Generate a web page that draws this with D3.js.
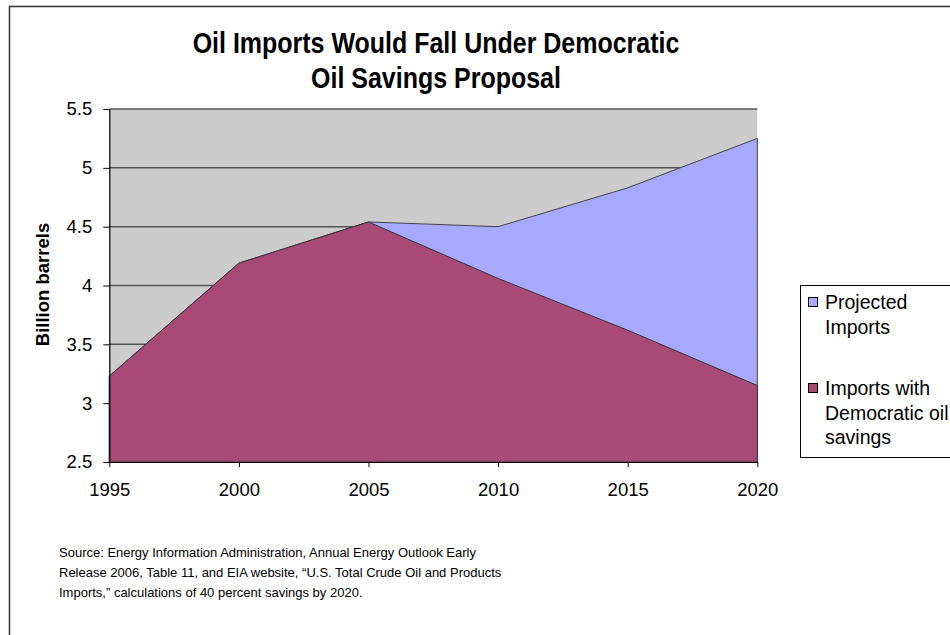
<!DOCTYPE html>
<html>
<head>
<meta charset="utf-8">
<script src="https://cdn.jsdelivr.net/npm/d3@7"></script>
<style>
    body { margin: 0; background: #fff; }
    svg { display: block; font-family: "Liberation Sans", Arial, sans-serif; }
</style>
</head>
<body>
<div id="chart"></div>
<script>
// data
const years = [1995, 2000, 2005, 2010, 2015, 2020];
const projectedImports = [3.23, 4.19, 4.54, 4.50, 4.83, 5.25];
const savingsImports = [3.23, 4.19, 4.54, 4.06, 3.62, 3.15];
const yTicks = [2.5, 3, 3.5, 4, 4.5, 5, 5.5];
const seriesNames = ["Projected Imports", "Imports with Democratic oil savings"];
const titleLines = ["Oil Imports Would Fall Under Democratic", "Oil Savings Proposal"];
const sourceLines = [
    "Source: Energy Information Administration, Annual Energy Outlook Early",
    "Release 2006, Table 11, and EIA website, \u201cU.S. Total Crude Oil and Products",
    "Imports,\u201d calculations of 40 percent savings by 2020."
];

const width = 950, height = 635;
const plot = { left: 109.3, right: 757.3, top: 109, bottom: 462 };

const svg = d3.select("#chart").append("svg")
    .attr("width", width)
    .attr("height", height);

// outer frame (runs off the right and bottom edge)
svg.append("rect")
    .attr("x", 9.5).attr("y", 6.5)
    .attr("width", 960).attr("height", 660)
    .attr("fill", "none")
    .attr("stroke", "#333")
    .attr("stroke-width", 1.5);

const x = d3.scaleLinear().domain([1995, 2020]).range([plot.left, plot.right]);
const y = d3.scaleLinear().domain([2.5, 5.5]).range([plot.bottom, plot.top]);

// plot background
svg.append("rect")
    .attr("x", plot.left).attr("y", plot.top)
    .attr("width", plot.right - plot.left)
    .attr("height", plot.bottom - plot.top)
    .attr("fill", "#cccccc");

// gridlines
svg.append("g")
    .selectAll("line")
    .data(yTicks.filter(d => d > 2.5))
    .join("line")
    .attr("x1", plot.left).attr("x2", plot.right)
    .attr("y1", d => y(d)).attr("y2", d => y(d))
    .attr("stroke", "#555")
    .attr("stroke-width", 1.5);

const area = d3.area()
    .x((d, i) => x(years[i]))
    .y0(y(2.5))
    .y1(d => y(d));

svg.append("path")
    .datum(projectedImports)
    .attr("d", area)
    .attr("fill", "#a6a9ff")
    .attr("stroke", "#444")
    .attr("stroke-width", 1);

svg.append("path")
    .datum(savingsImports)
    .attr("d", area)
    .attr("fill", "#a94a76")
    .attr("stroke", "#333")
    .attr("stroke-width", 1);

// axes
const yAxis = svg.append("g")
    .attr("transform", `translate(${plot.left},0)`)
    .call(d3.axisLeft(y).tickValues(yTicks).tickFormat(d => String(d)).tickSize(6).tickSizeOuter(0).tickPadding(11));

const xAxis = svg.append("g")
    .attr("transform", `translate(0,${plot.bottom})`)
    .call(d3.axisBottom(x).tickValues(years).tickFormat(d => String(d)).tickSize(5).tickSizeOuter(0).tickPadding(16));

[xAxis, yAxis].forEach(g => {
    g.attr("font-family", null).attr("font-size", null);
    g.selectAll("text")
        .style("font-size", "18.5px")
        .attr("fill", "#000");
    g.selectAll("line").attr("stroke", "#000");
    g.select(".domain").attr("stroke", "#000").attr("stroke-width", 1.2);
});

// title, stretched a little in height like the original
svg.append("g")
    .selectAll("text")
    .data(titleLines)
    .join("text")
    .attr("transform", (d, i) => `translate(436,${53 + i * 35}) scale(1,1.17)`)
    .attr("text-anchor", "middle")
    .style("font-weight", "bold")
    .style("font-size", "25px")
    .text(d => d);

// y axis label
svg.append("text")
    .attr("transform", `translate(49,${(plot.top + plot.bottom) / 2 - 1}) rotate(-90)`)
    .attr("text-anchor", "middle")
    .style("font-weight", "bold")
    .style("font-size", "18.5px")
    .text("Billion barrels");

// legend
const legend = svg.append("g");
legend.append("rect")
    .attr("x", 800.5).attr("y", 285.5)
    .attr("width", 200).attr("height", 172)
    .attr("fill", "#fff")
    .attr("stroke", "#000");

const legendLines = [["Projected", "Imports"], ["Imports with", "Democratic oil", "savings"]];
const legendColors = ["#a6a9ff", "#a94a76"];
const legendTop = [309, 395];

const item = legend.selectAll(".item")
    .data(seriesNames)
    .join("g")
    .attr("class", "item");

item.append("rect")
    .attr("x", 808.5)
    .attr("y", (d, i) => legendTop[i] - 11.5)
    .attr("width", 9).attr("height", 9)
    .attr("fill", (d, i) => legendColors[i])
    .attr("stroke", "#000");

item.append("text")
    .style("font-size", "19.5px")
    .selectAll("tspan")
    .data((d, i) => legendLines[i].map(t => ({ t, top: legendTop[i] })))
    .join("tspan")
    .attr("x", 825)
    .attr("y", (d, j) => d.top + j * 24.5)
    .text(d => d.t);

// source note
svg.append("text")
    .style("font-size", "13px")
    .selectAll("tspan")
    .data(sourceLines)
    .join("tspan")
    .attr("x", 59)
    .attr("y", (d, i) => 557 + i * 20)
    .text(d => d);
</script>
</body>
</html>
